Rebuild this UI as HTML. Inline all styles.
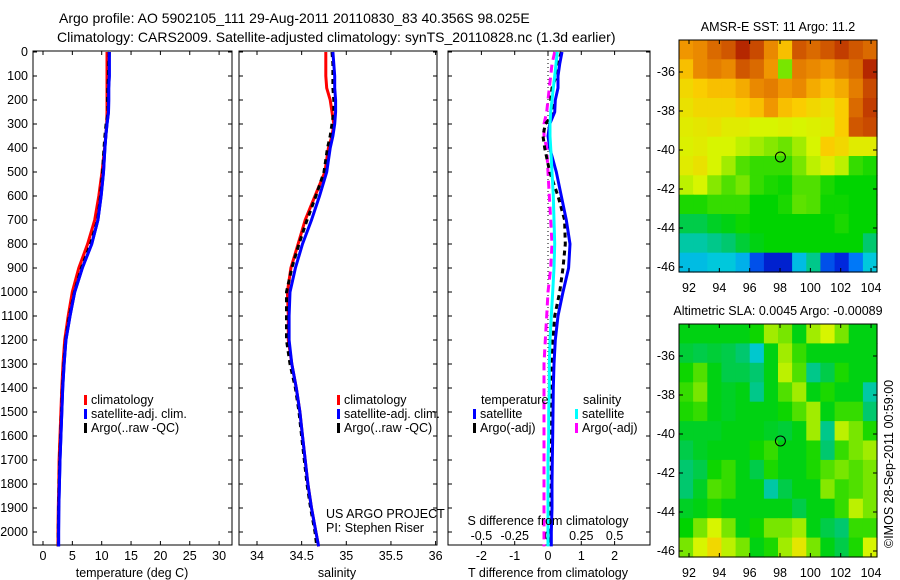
<!DOCTYPE html>
<html><head><meta charset="utf-8">
<style>
html,body{margin:0;padding:0;background:#fff;}
svg{display:block;font-family:"Liberation Sans",sans-serif;}
text{font-size:12.5px;fill:#000;}
</style></head>
<body>
<svg id="fig" width="900" height="580" viewBox="0 0 900 580">
<text x="59" y="23" style="font-size:14px">Argo profile: AO 5902105_111 29-Aug-2011 20110830_83 40.356S 98.025E</text>
<text x="57" y="42" style="font-size:14px">Climatology: CARS2009. Satellite-adjusted climatology: synTS_20110828.nc (1.3d earlier)</text>
<g id="g1"></g>
<g id="g2"></g>
<g id="g3"></g>
<g id="m1"></g>
<g id="m2"></g>
<text transform="translate(893,548) rotate(-90)" style="font-size:12.5px">©IMOS 28-Sep-2011 00:59:00</text>
</svg>
<script>
const depths=[0,50,100,150,200,250,300,350,400,500,600,700,800,900,1000,1100,1200,1300,1400,1500,1600,1700,1800,1900,2000,2060];
const tempClim=[10.9,10.9,10.9,10.9,10.9,10.9,10.85,10.7,10.5,10.05,9.5,8.8,7.6,6.1,5.0,4.3,3.7,3.4,3.2,3.05,2.9,2.75,2.7,2.6,2.55,2.55];
const tempSat=[11.3,11.3,11.3,11.2,11.2,11.15,10.9,10.7,10.55,10.3,9.9,9.35,8.3,6.7,5.4,4.6,3.9,3.6,3.35,3.2,3.05,2.9,2.8,2.7,2.65,2.65];
const tempArgo=[11.3,11.2,11.15,11.05,11.0,11.1,10.75,10.55,10.4,10.15,9.8,9.3,8.1,6.55,5.35,4.5,3.85,3.55,3.3,3.15,3.0,2.85,2.75,2.65,2.6,2.6];
const salClim=[34.77,34.77,34.77,34.78,34.82,34.84,34.86,34.84,34.80,34.76,34.65,34.54,34.46,34.38,34.34,34.35,34.35,34.39,34.44,34.48,34.51,34.54,34.57,34.61,34.66,34.69];
const salSat=[34.85,34.86,34.87,34.87,34.88,34.88,34.87,34.85,34.82,34.78,34.70,34.61,34.51,34.43,34.37,34.36,34.36,34.39,34.44,34.48,34.51,34.54,34.57,34.61,34.66,34.69];
const salArgo=[34.84,34.85,34.85,34.85,34.86,34.86,34.84,34.82,34.79,34.75,34.66,34.56,34.47,34.39,34.33,34.33,34.33,34.37,34.43,34.47,34.50,34.53,34.56,34.60,34.65,34.67];
const tDiffSat=[0.42,0.35,0.3,0.3,0.22,0.2,0.05,0.0,0.05,0.25,0.4,0.55,0.66,0.62,0.45,0.3,0.22,0.18,0.16,0.15,0.14,0.13,0.12,0.12,0.1,0.1];
const tDiffArgo=[0.4,0.3,0.25,0.12,0.08,0.2,-0.08,-0.15,-0.1,0.05,0.3,0.5,0.52,0.45,0.35,0.2,0.15,0.12,0.1,0.1,0.1,0.1,0.1,0.08,0.08,0.08];
const sDiffSat=[0.07,0.06,0.05,0.04,0.03,0.02,0.015,0.015,0.02,0.03,0.04,0.045,0.05,0.045,0.035,0.025,0.015,0.01,0.01,0.005,0.005,0.0,0.0,0.0,0.0,0.0];
const sDiffArgo=[0.05,0.03,0.02,0.01,0.0,-0.01,-0.03,-0.03,-0.01,0.0,0.01,0.02,0.03,0.02,0.0,-0.01,-0.02,-0.03,-0.03,-0.03,-0.03,-0.03,-0.03,-0.03,-0.03,-0.03];
const depthTicks=[0,100,200,300,400,500,600,700,800,900,1000,1100,1200,1300,1400,1500,1600,1700,1800,1900,2000];
const tempTicks=[0,5,10,15,20,25,30];
const salTicks=[34,34.5,35,35.5,36];
const tdTicks=[-2,-1,0,1,2];
const sdTicks=[-0.5,-0.25,0,0.25,0.5];
const mapLonTicks=[92,94,96,98,100,102,104];
const mapLatTicks=[-36,-38,-40,-42,-44,-46];
const sstGrid=[
[.78,.80,.85,.88,.95,.90,.80,.72,.88,.85,.88,.92,.88,.85],
[.72,.80,.82,.80,.88,.85,.78,.55,.82,.80,.78,.82,.85,.95],
[.68,.70,.72,.72,.75,.80,.82,.78,.80,.75,.72,.75,.82,.90],
[.66,.68,.68,.68,.70,.72,.78,.72,.70,.68,.66,.70,.85,.92],
[.64,.65,.66,.64,.64,.62,.62,.63,.62,.63,.64,.70,.88,.90],
[.63,.64,.62,.62,.60,.58,.56,.54,.58,.62,.70,.68,.64,.64],
[.64,.66,.62,.58,.52,.50,.50,.50,.55,.60,.64,.60,.50,.48],
[.60,.62,.56,.52,.55,.50,.48,.47,.52,.52,.48,.46,.46,.46],
[.48,.48,.50,.50,.50,.46,.46,.48,.53,.52,.47,.47,.46,.46],
[.42,.42,.44,.45,.47,.46,.46,.46,.46,.46,.46,.48,.46,.46],
[.36,.36,.38,.40,.43,.45,.46,.46,.46,.46,.46,.46,.46,.40],
[.30,.30,.32,.32,.28,.16,.10,.10,.30,.38,.16,.12,.20,.32]];
const slaGrid=[
[.45,.45,.45,.45,.45,.47,.58,.55,.45,.58,.62,.55,.45,.45],
[.43,.42,.43,.42,.40,.33,.45,.58,.50,.45,.45,.45,.45,.45],
[.47,.52,.45,.42,.42,.40,.45,.60,.52,.38,.42,.48,.45,.45],
[.50,.55,.45,.44,.45,.38,.45,.52,.58,.45,.48,.45,.45,.36],
[.48,.50,.45,.44,.45,.45,.45,.47,.52,.58,.45,.50,.50,.40],
[.44,.44,.44,.45,.45,.45,.44,.43,.45,.58,.38,.60,.55,.48],
[.42,.44,.45,.45,.45,.47,.50,.45,.45,.48,.40,.50,.55,.58],
[.40,.42,.47,.50,.45,.42,.48,.45,.45,.48,.52,.55,.52,.55],
[.40,.44,.52,.50,.45,.45,.36,.42,.45,.45,.56,.50,.52,.55],
[.44,.45,.48,.45,.45,.45,.45,.45,.42,.45,.45,.50,.60,.55],
[.46,.55,.62,.55,.45,.47,.55,.55,.58,.45,.42,.40,.50,.50],
[.55,.62,.68,.60,.55,.45,.48,.58,.65,.55,.45,.42,.48,.62]];
const argoLon=98.025, argoLat=-40.356;

const NS='http://www.w3.org/2000/svg';
function mk(parent,tag,attrs){const e=document.createElementNS(NS,tag);for(const k in attrs)e.setAttribute(k,attrs[k]);parent.appendChild(e);return e;}
function txt(parent,x,y,s,anchor,size){const t=mk(parent,'text',{x:x,y:y,'text-anchor':anchor||'start'});if(size)t.style.fontSize=size+'px';t.textContent=s;return t;}

const yD=d=>52+d*0.24;
const PT=51,PB=545;
function frame(g,x0,x1){const r=mk(g,'rect',{x:x0,y:PT,width:x1-x0,height:PB-PT,fill:'none',stroke:'#000','stroke-width':1});}
function yTicks(g,x0,x1,labels){depthTicks.forEach(d=>{const y=yD(d);mk(g,'line',{x1:x0,y1:y,x2:x0+4,y2:y,stroke:'#000'});mk(g,'line',{x1:x1,y1:y,x2:x1-4,y2:y,stroke:'#000'});if(labels){const t=txt(g,28,y+4,String(d),'end');}});}
function xTicks(g,vals,fx,ylab,lab){vals.forEach(v=>{const x=fx(v);mk(g,'line',{x1:x,y1:PB,x2:x,y2:PB-4,stroke:'#000'});mk(g,'line',{x1:x,y1:PT,x2:x,y2:PT+4,stroke:'#000'});if(lab){const t=txt(g,x,ylab,String(v),'middle');}});}
function line(g,xs,fx,color,dash,name){const pts=xs.map((v,i)=>fx(v).toFixed(1)+','+yD(depths[i]).toFixed(1)).join(' ');const p=mk(g,'polyline',{points:pts,fill:'none',stroke:color,'stroke-width':3});if(dash)p.setAttribute('stroke-dasharray',dash);return p;}
function legend(g,x,y,color,label,name){mk(g,'rect',{x:x,y:y-9,width:3,height:10,fill:color});const t=txt(g,x+7,y,label);}

const g1=document.getElementById('g1');
const xT=t=>43+t*5.87;
frame(g1,33,232);yTicks(g1,33,232,true);xTicks(g1,tempTicks,xT,560,true);
line(g1,tempClim,xT,'#f00',null,'temp-climatology-line');
line(g1,tempSat,xT,'#00f',null,'temp-satellite-line');
line(g1,tempArgo,xT,'#000','5,4','temp-argo-line');
line(g1,tempSat,xT,'#00f',null,'temp-satellite-line-top');
let t=txt(g1,132,577,'temperature (deg C)','middle');
legend(g1,84,404,'#f00','climatology','legend-climatology');
legend(g1,84,418,'#00f','satellite-adj. clim.','legend-satellite');
legend(g1,84,432,'#000','Argo(..raw -QC)','legend-argo');

const g2=document.getElementById('g2');
const xS=s=>257+(s-34)*89.3;
frame(g2,239,437);yTicks(g2,239,437,false);xTicks(g2,salTicks,xS,560,true);
line(g2,salClim,xS,'#f00',null,'sal-climatology-line');
line(g2,salArgo,xS,'#000','5,4','sal-argo-line');
line(g2,salSat,xS,'#00f',null,'sal-satellite-line');
t=txt(g2,337,577,'salinity','middle');
legend(g2,337,404,'#f00','climatology','legend-climatology-sal');
legend(g2,337,418,'#00f','satellite-adj. clim.','legend-satellite-sal');
legend(g2,337,432,'#000','Argo(..raw -QC)','legend-argo-sal');
t=txt(g2,326,518,'US ARGO PROJECT');
t=txt(g2,326,532,'PI: Stephen Riser');

const g3=document.getElementById('g3');
const xTD=v=>548+v*33.3, xSD=v=>548+v*133.2;
frame(g3,448,650);
depthTicks.forEach(d=>{const y=yD(d);mk(g3,'line',{x1:448,y1:y,x2:452,y2:y,stroke:'#000'});mk(g3,'line',{x1:650,y1:y,x2:646,y2:y,stroke:'#000'});});
xTicks(g3,tdTicks,xTD,560,true);
mk(g3,'line',{x1:548,y1:PT,x2:548,y2:PB,stroke:'#000','stroke-dasharray':'1,3'});
sdTicks.forEach(v=>{const tt=txt(g3,xSD(v),540,String(v),'middle');});
line(g3,sDiffArgo,xSD,'#f0f','8,5','s-diff-argo-line');
line(g3,tDiffArgo,xTD,'#000','5,4','t-diff-argo-line');
line(g3,tDiffSat,xTD,'#00f',null,'t-diff-satellite-line');
line(g3,sDiffSat,xSD,'#0ff',null,'s-diff-satellite-line');
t=txt(g3,481,404,'temperature');
legend(g3,473,418,'#00f','satellite','legend-t-satellite');
legend(g3,473,432,'#000','Argo(-adj)','legend-t-argo');
t=txt(g3,583,404,'salinity');
legend(g3,575,418,'#0ff','satellite','legend-s-satellite');
legend(g3,575,432,'#f0f','Argo(-adj)','legend-s-argo');
t=txt(g3,548,525,'S difference from climatology','middle');
t=txt(g3,548,577,'T difference from climatology','middle');

const stops=[[0,0,0,140],[.12,0,40,220],[.22,0,140,255],[.32,0,200,220],[.40,0,200,110],[.46,0,212,0],[.55,120,230,0],[.62,215,245,0],[.70,250,205,0],[.78,240,150,0],[.86,215,100,0],[.93,190,55,0],[1,160,0,0]];
function cmap(v){for(let i=1;i<stops.length;i++){if(v<=stops[i][0]){const a=stops[i-1],b=stops[i],f=(v-a[0])/(b[0]-a[0]);return 'rgb('+[1,2,3].map(k=>Math.round(a[k]+f*(b[k]-a[k]))).join(',')+')';}}return 'rgb(160,0,0)';}

function drawMap(g,grid,top,bottom,lat36y,lat46y,title,name){
 const L=679,R=877;
 const xL=lon=>689+(lon-92)*15.17;
 const yL=lat=>lat36y+(-36-lat)*(lat46y-lat36y)/10;
 const lon0=(L-689)/15.17+92, lon1=(R-689)/15.17+92;
 const latTop=-36-(top-lat36y)/((lat46y-lat36y)/10), latBot=-36-(bottom-lat36y)/((lat46y-lat36y)/10);
 const nr=grid.length,nc=grid[0].length,dlon=(lon1-lon0)/nc,dlat=(latTop-latBot)/nr;
 grid.forEach((row,r)=>row.forEach((v,c)=>{
  const x=xL(lon0+c*dlon),y=yL(latTop-r*dlat);
  const cell=mk(g,'rect',{x:x.toFixed(1),y:y.toFixed(1),width:(xL(lon0+(c+1)*dlon)-x+0.6).toFixed(1),height:(yL(latTop-(r+1)*dlat)-y+0.6).toFixed(1),fill:cmap(v)});
  
  
 }));
 mk(g,'rect',{x:L,y:top,width:R-L,height:bottom-top,fill:'none',stroke:'#000'});
 mapLonTicks.forEach(lon=>{const x=xL(lon);mk(g,'line',{x1:x,y1:bottom,x2:x,y2:bottom-4,stroke:'#000'});mk(g,'line',{x1:x,y1:top,x2:x,y2:top+4,stroke:'#000'});const tt=txt(g,x,bottom+20,String(lon),'middle');});
 mapLatTicks.forEach(lat=>{const y=yL(lat);mk(g,'line',{x1:L,y1:y,x2:L+4,y2:y,stroke:'#000'});mk(g,'line',{x1:R,y1:y,x2:R-4,y2:y,stroke:'#000'});const tt=txt(g,675,y+4,String(lat),'end');});
 const c=mk(g,'ellipse',{cx:xL(argoLon),cy:yL(argoLat),rx:5,ry:5,fill:'none',stroke:'#000','stroke-width':1});
 
 const tt=txt(g,778,top-9,title,'middle');
}
drawMap(document.getElementById('m1'),sstGrid,40,272,72,267,'AMSR-E SST: 11 Argo: 11.2','sst-map-title');
drawMap(document.getElementById('m2'),slaGrid,324,557,356,551,'Altimetric SLA: 0.0045 Argo: -0.00089','sla-map-title');
</script>
</body></html>
